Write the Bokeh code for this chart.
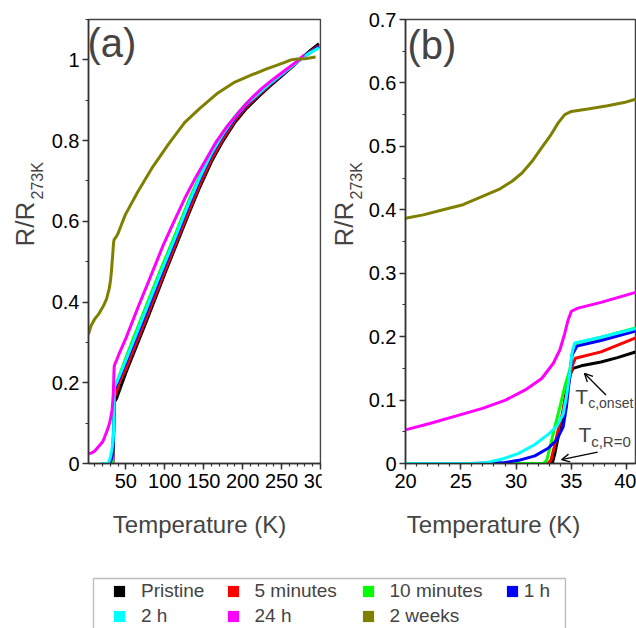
import math
from bokeh.plotting import figure
from bokeh.models import (Range1d, FixedTicker, Label, Arrow, OpenHead, Legend,
                          LegendItem, BoxAnnotation, CustomJSTickFormatter)
from bokeh.layouts import column, row
from bokeh.embed import file_html
from bokeh.resources import INLINE

FONT = "Liberation Sans"

# ---------------- data ----------------
series_names = ["Pristine", "5 minutes", "10 minutes", "1 h", "2 h", "24 h", "2 weeks"]
series_colors = ["#000000", "#FF0000", "#00FF00", "#0000FF", "#00FFFF", "#FF00FF", "#808000"]

T_pristine = [20, 26, 30, 33.27, 33.51, 33.81, 34.1, 34.4, 34.85, 35.15, 35.9, 37.68, 39.17, 40.65,
              50, 60, 75, 90, 100, 115, 130, 145, 160, 175, 190, 205, 220, 235, 250, 265, 273, 285, 298]
R_pristine = [0, 0, 0, 0, 0.016, 0.042, 0.063, 0.10, 0.139, 0.150, 0.154, 0.160, 0.167, 0.175,
              0.225, 0.273, 0.346, 0.42, 0.47, 0.543, 0.615, 0.685, 0.748, 0.80, 0.845, 0.88, 0.908,
              0.935, 0.96, 0.985, 1.0, 1.02, 1.04]

T_5min = [20, 26, 30, 32.9, 33.15, 33.45, 33.81, 34.26, 34.7, 35.06, 35.36, 37.68, 40.65, 50, 60, 75,
          90, 100, 115, 130, 145, 160, 175, 190, 205, 220, 235, 250, 265, 273, 285, 298]
R_5min = [0, 0, 0, 0, 0.005, 0.026, 0.053, 0.084, 0.121, 0.153, 0.166, 0.176, 0.197, 0.235, 0.283,
          0.355, 0.428, 0.477, 0.55, 0.622, 0.692, 0.755, 0.806, 0.85, 0.885, 0.912, 0.938, 0.962,
          0.986, 1.0, 1.018, 1.035]

T_10min = [20, 26, 30, 32.45, 32.77, 33.07, 33.51, 33.96, 34.4, 34.85, 35.15, 35.5, 37.68, 40.65, 50,
           60, 75, 90, 100, 115, 130, 145, 160, 175, 190, 205, 220, 235, 250, 265, 273, 285, 298]
R_10min = [0, 0, 0, 0, 0.005, 0.026, 0.058, 0.089, 0.121, 0.147, 0.18, 0.19, 0.199, 0.213, 0.262,
           0.312, 0.385, 0.458, 0.505, 0.575, 0.648, 0.714, 0.773, 0.821, 0.86, 0.893, 0.918, 0.942,
           0.965, 0.988, 1.0, 1.015, 1.03]

T_1h = [20, 26, 28.75, 30.24, 31.7, 32.9, 33.66, 34.26, 34.55, 34.85, 35.06, 35.5, 37.68, 40.65, 50,
        60, 75, 90, 100, 115, 130, 145, 160, 175, 190, 205, 220, 235, 250, 265, 273, 285, 298]
R_1h = [0, 0, 0.001, 0.005, 0.012, 0.024, 0.037, 0.058, 0.089, 0.137, 0.171, 0.185, 0.194, 0.208,
        0.25, 0.297, 0.368, 0.442, 0.49, 0.562, 0.635, 0.704, 0.765, 0.814, 0.855, 0.889, 0.915,
        0.94, 0.963, 0.987, 1.0, 1.017, 1.033]

T_2h = [20, 26, 27.2, 28.75, 30.24, 31.7, 32.9, 33.66, 34.26, 34.55, 34.85, 35.06, 35.3, 37.68, 40.65,
        50, 60, 75, 90, 100, 115, 130, 145, 160, 175, 190, 205, 220, 235, 250, 265, 273, 285, 298]
R_2h = [0, 0, 0.001, 0.007, 0.016, 0.03, 0.046, 0.058, 0.078, 0.105, 0.142, 0.174, 0.19, 0.199,
        0.212, 0.256, 0.304, 0.377, 0.45, 0.497, 0.568, 0.641, 0.709, 0.769, 0.817, 0.858, 0.891,
        0.916, 0.941, 0.964, 0.987, 1.0, 1.016, 1.03]

T_24h = [2, 6, 10, 15, 19.97, 22.2, 24.6, 26.96, 29.05, 30.83, 32.32, 33.37, 33.96, 34.4, 34.7, 35.0,
         35.6, 37.68, 40.65, 50, 66, 80, 98, 110, 125.7, 140, 155, 166, 180, 195, 210.8, 225, 240.5,
         255, 272.4, 278.8]
R_24h = [0.025, 0.026, 0.031, 0.042, 0.053, 0.063, 0.075, 0.087, 0.100, 0.116, 0.134, 0.158, 0.179,
         0.205, 0.226, 0.240, 0.245, 0.254, 0.269, 0.31, 0.389, 0.455, 0.541, 0.592, 0.657, 0.71,
         0.76, 0.797, 0.835, 0.87, 0.904, 0.93, 0.954, 0.975, 1.0, 1.012]

T_2wk = [2, 5, 10, 15, 20.12, 21.6, 23.4, 25.2, 26.96, 28.45, 29.64, 30.54, 31.43, 32.32, 33.07,
         33.81, 34.4, 35.0, 36.49, 38.28, 39.76, 49.2, 65, 83.2, 105, 125.7, 145, 168.2, 190, 210.8,
         230, 253.3, 262, 270, 280, 293.7]
R_2wk = [0.32, 0.34, 0.358, 0.37, 0.387, 0.392, 0.400, 0.408, 0.421, 0.432, 0.445, 0.458, 0.476,
         0.498, 0.516, 0.537, 0.550, 0.555, 0.559, 0.564, 0.569, 0.616, 0.672, 0.731, 0.792, 0.845,
         0.88, 0.918, 0.945, 0.962, 0.977, 0.993, 1.0, 1.002, 1.003, 1.007]

series_T = [T_pristine, T_5min, T_10min, T_1h, T_2h, T_24h, T_2wk]
series_R = [R_pristine, R_5min, R_10min, R_1h, R_2h, R_24h, R_2wk]

# axes
xa_range = (2, 300)
ya_range = (0, 1.1)
xa_major = [50, 100, 150, 200, 250, 300]
xa_minor = list(range(10, 301, 10))
ya_major = [0, 0.2, 0.4, 0.6, 0.8, 1.0]
ya_minor = [0.1, 0.3, 0.5, 0.7, 0.9, 1.1]

xb_range = (20, 40.8)
yb_range = (0, 0.7)
xb_major = [20, 25, 30, 35, 40]
xb_minor = list(range(20, 42))
yb_major = [0, 0.1, 0.2, 0.3, 0.4, 0.5, 0.6, 0.7]
yb_minor = [0.05, 0.15, 0.25, 0.35, 0.45, 0.55, 0.65]

# annotation positions in panel (b), data units
onset_arrow = (38.13, 0.108, 36.19, 0.142)
onset_T = (35.36, 0.1056)
onset_sub = (36.52, 0.096)
zero_arrow = (37.38, 0.018, 34.11, 0.006)
zero_T = (35.65, 0.045)
zero_sub = (36.79, 0.034)

FMT = CustomJSTickFormatter(code="return String(Math.round(tick*100)/100);")
TOP_H = 500


def make_panel(xr, yr, width, bl, br, xmaj, xmin, ymaj, ymin, **kw):
    p = figure(width=width, height=TOP_H, x_range=Range1d(*xr), y_range=Range1d(*yr),
               output_backend="svg", toolbar_location=None,
               min_border_left=bl, min_border_right=br, min_border_top=19, min_border_bottom=37, **kw)
    p.grid.visible = False
    p.outline_line_color = "#444444"
    p.outline_line_width = 1.5
    p.xaxis.ticker = FixedTicker(ticks=xmaj, minor_ticks=xmin)
    p.yaxis.ticker = FixedTicker(ticks=ymaj, minor_ticks=ymin)
    for ax in (p.xaxis, p.yaxis):
        ax.formatter = FMT
        ax.major_tick_in = 0
        ax.major_tick_out = 6
        ax.minor_tick_in = 0
        ax.minor_tick_out = 3
        ax.axis_line_color = "#333333"
        ax.axis_line_width = 1.5
        ax.major_tick_line_color = "#333333"
        ax.major_tick_line_width = 1.5
        ax.minor_tick_line_color = "#333333"
        ax.minor_tick_line_width = 1.2
        ax.major_label_text_font = FONT
        ax.major_label_text_font_size = "20px"
        ax.major_label_text_color = "black"
        ax.major_label_standoff = 4
    p.yaxis.major_label_standoff = 3
    for T, R, c in zip(series_T, series_R, series_colors):
        p.line(T, R, line_color=c, line_width=3)
    return p


def blank(width, height, **kw):
    f = figure(width=width, height=height, x_range=Range1d(0, 1), y_range=Range1d(0, 1),
               output_backend="svg", toolbar_location=None, min_border=0,
               x_axis_location=None, y_axis_location=None, **kw)
    f.grid.visible = False
    f.outline_line_color = None
    return f


def ylabel_strip(width, rx, subx, **kw):
    f = blank(width, TOP_H, **kw)
    f.add_layout(Label(x=rx, y=217, x_units="screen", y_units="screen", text="R/R",
                       angle=math.pi / 2, text_font=FONT, text_font_size="26px",
                       text_baseline="middle", text_align="left"))
    f.add_layout(Label(x=subx, y=264, x_units="screen", y_units="screen", text="273K",
                       angle=math.pi / 2, text_font=FONT, text_font_size="16px",
                       text_baseline="middle", text_align="left"))
    return f


ya = ylabel_strip(48, 24, 36.5)
pa = make_panel(xa_range, ya_range, 291, 40, 19, xa_major, xa_minor, ya_major, ya_minor)
yb = ylabel_strip(44, 22, 35, margin=(0, 0, 0, -18))
pb = make_panel(xb_range, yb_range, 271, 37, 1, xb_major, xb_minor, yb_major, yb_minor)

pa.add_layout(Label(x=-1, y=420.6, x_units="screen", y_units="screen", text="(a)",
                    text_font=FONT, text_font_size="40px", text_baseline="middle", text_align="left"))
pb.add_layout(Label(x=2, y=419, x_units="screen", y_units="screen", text="(b)",
                    text_font=FONT, text_font_size="40px", text_baseline="middle", text_align="left"))

for arr in (onset_arrow, zero_arrow):
    pb.add_layout(Arrow(end=OpenHead(size=8, line_width=1.3, line_color="black"),
                        x_start=arr[0], y_start=arr[1], x_end=arr[2], y_end=arr[3],
                        line_width=1.3, line_color="black"))
for pos, txt, size in ((onset_T, "T", "21px"), (onset_sub, "c,onset", "14px"),
                       (zero_T, "T", "21px"), (zero_sub, "c,R=0", "15px")):
    pb.add_layout(Label(x=pos[0], y=pos[1], text=txt, text_font=FONT, text_font_size=size,
                        text_baseline="middle", text_align="left"))

# ---------------- bottom strip: axis titles + legend ----------------
pl = blank(636, 128)
for cx in (199, 493):
    pl.add_layout(Label(x=cx, y=104.4, x_units="screen", y_units="screen", text="Temperature (K)",
                        text_font=FONT, text_font_size="24px", text_baseline="middle",
                        text_align="center"))

proxies = [pl.quad(left=T, right=T, top=R, bottom=R, fill_color=c, line_color=None)
           for T, R, c in zip(series_T, series_R, series_colors)]

pl.add_layout(BoxAnnotation(left=93, right=565, top=50, bottom=-10, left_units="screen",
                            right_units="screen", top_units="screen", bottom_units="screen",
                            fill_alpha=0, line_color="#222222", line_width=1.3))

col_x = [112, 225.5, 360.5, 504.7]
col_standoff = [15, 15, 15, 5]
row_y = [26, 1.5]
for i, (name, r) in enumerate(zip(series_names, proxies)):
    ci = i % 4
    ri = i // 4
    lg = Legend(items=[LegendItem(label=name, renderers=[r])],
                location=(col_x[ci], row_y[ri]), border_line_color=None,
                background_fill_alpha=0, padding=0, margin=0, spacing=0,
                glyph_width=14, glyph_height=14, label_standoff=col_standoff[ci],
                label_text_font=FONT, label_text_font_size="19px", label_height=14)
    pl.add_layout(lg)

layout = column(row(ya, pa, yb, pb), pl)
open("out.html", "w").write(file_html(layout, INLINE))
